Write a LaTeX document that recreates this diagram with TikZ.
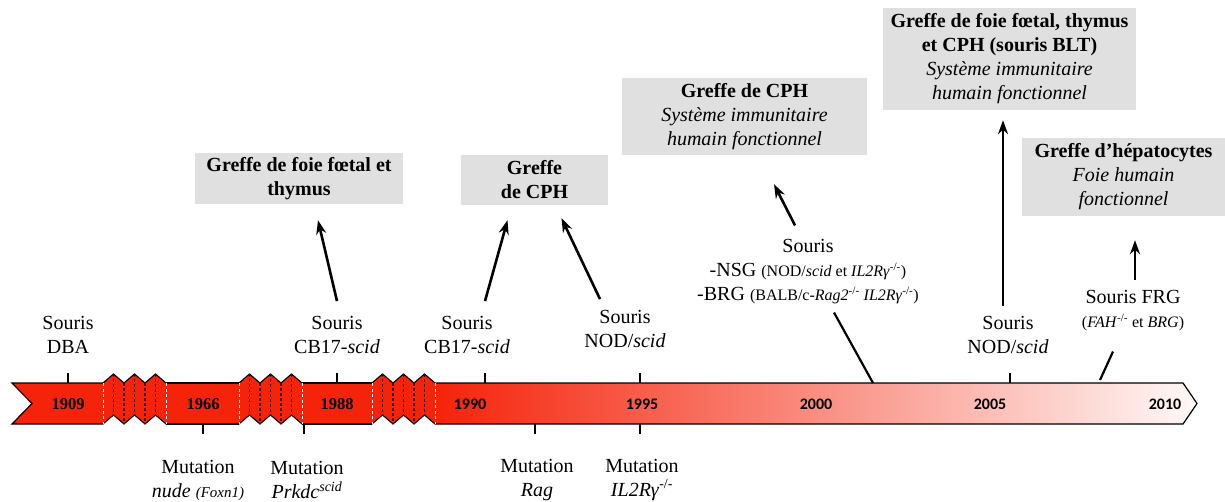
\documentclass[tikz,border=0pt]{standalone}
\usepackage{fontspec}
\setmainfont{Liberation Serif}
\newfontfamily\yearsans{Carlito}
\usetikzlibrary{arrows.meta,calc}
\definecolor{barred}{RGB}{245,35,10}
\definecolor{boxgray}{RGB}{224,224,224}
\definecolor{dashdark}{RGB}{60,5,0}
\newcommand\smtxt{\fontsize{16}{24}\selectfont}
\tikzset{
  lbl/.style={align=center,inner sep=0pt,font=\fontsize{20}{24}\selectfont},
  gbox/.style={fill=boxgray,align=center,inner sep=0pt,font=\fontsize{20}{24}\selectfont},
  arr/.style={line width=2.6pt,-{Stealth[length=14pt,width=10pt]}},
  conn/.style={line width=2.2pt},
  tickmark/.style={line width=1.3pt},
  oldyear/.style={font=\fontsize{16.5}{16.5}\selectfont\bfseries,inner sep=0pt},
  newyear/.style={font=\fontsize{16}{16}\selectfont\yearsans\bfseries,inner sep=0pt},
  brkzone/.pic={
    \fill[barred] (0,0) -- (10.5,-9) -- (21,0) -- (31.5,-9) -- (42,0) -- (52.5,-9) -- (63,0)
      -- (63,41) -- (52.5,32) -- (42,41) -- (31.5,32) -- (21,41) -- (10.5,32) -- (0,41) -- cycle;
    \draw[line width=1.1pt] (0,0) -- (10.5,-9) -- (21,0) -- (31.5,-9) -- (42,0) -- (52.5,-9) -- (63,0);
    \draw[line width=1.1pt] (0,41) -- (10.5,32) -- (21,41) -- (31.5,32) -- (42,41) -- (52.5,32) -- (63,41);
    \foreach \xx/\yt/\yb in {10.5/-9/32, 21/0/41, 31.5/-9/32, 42/0/41, 52.5/-9/32}
      \draw[dashdark, line width=1.3pt, dash pattern=on 3pt off 2pt] (\xx,\yt) -- (\xx,\yb);
    \draw[white, line width=0.8pt, dash pattern=on 3pt off 2.5pt] (0,0) -- (0,41) (63,0) -- (63,41);
  }
}
\begin{document}
\begin{tikzpicture}[x=1pt,y=-1pt]
\fill[white] (0,0) rectangle (1225,501);
\useasboundingbox (0,0) rectangle (1225,501);

% ---- timeline bar ----
\fill[barred] (12,383) -- (103,383) -- (103,424) -- (12,424) -- (32,403.5) -- cycle;
\draw[line width=1.2pt] (103,383) -- (12,383) -- (32,403.5) -- (12,424) -- (103,424);
\fill[barred] (166,383) rectangle (239,424);
\draw[line width=1.2pt] (166,383) -- (239,383) (166,424) -- (239,424);
\fill[barred] (302,383) rectangle (372,424);
\draw[line width=1.2pt] (302,383) -- (372,383) (302,424) -- (372,424);
\shade[left color=barred, right color=barred!3!white]
  (435,383) -- (1183,383) -- (1197,403.5) -- (1183,424) -- (435,424) -- cycle;
\draw[line width=1.2pt] (435,383) -- (1183,383) -- (1197,403.5) -- (1183,424) -- (435,424);
\pic at (103,383) {brkzone};
\pic at (239,383) {brkzone};
\pic at (372,383) {brkzone};

% ---- ticks ----
\foreach \tx in {68,337,485,640,1010} \draw[tickmark] (\tx,373) -- (\tx,383);
\foreach \tx in {203,304,535,640} \draw[tickmark] (\tx,424) -- (\tx,434);

% ---- years ----
\node[oldyear] (y1909) at (68,404) {1909};
\node[oldyear] (y1966) at (203,404) {1966};
\node[oldyear] (y1988) at (337,404) {1988};
\node[newyear] (y1990) at (470,404) {1990};
\node[newyear] (y1995) at (642,404) {1995};
\node[newyear] (y2000) at (816,404) {2000};
\node[newyear] (y2005) at (990,404) {2005};
\node[newyear] (y2010) at (1165,404) {2010};

% ---- mouse labels ----
\node[lbl] (dba) at (68,335) {Souris\\DBA};
\node[lbl] (cb1) at (337,335) {Souris\\CB17-\textit{scid}};
\node[lbl] (cb2) at (467,335) {Souris\\CB17-\textit{scid}};
\node[lbl] (nod1) at (625,329) {Souris\\NOD/\textit{scid}};
\node[lbl] (nsg) at (808,272) {Souris\\-NSG {\smtxt(NOD/\textit{scid} et \textit{IL2Rγ}\textsuperscript{-/-})}\\-BRG {\smtxt(BALB/c-\textit{Rag2}\textsuperscript{-/-} \textit{IL2Rγ}\textsuperscript{-/-})}};
\node[lbl] (nod2) at (1008,335) {Souris\\NOD/\textit{scid}};
\node[lbl] (frg) at (1133,311) {Souris FRG\\{\smtxt(\textit{FAH}\textsuperscript{-/-} et \textit{BRG})}};

% ---- mutations ----
\node[lbl] (mnude) at (198,480) {Mutation\\\textit{nude} {\fontsize{15}{24}\selectfont\textit{(Foxn1)}}};
\node[lbl] (mprk) at (307,480) {Mutation\\\textit{Prkdc}\textsuperscript{\textit{scid}}};
\node[lbl] (mrag) at (537,480) {Mutation\\\textit{Rag}};
\node[lbl] (mil) at (642,480) {Mutation\\\textit{IL2Rγ}\textsuperscript{-/-}};

% ---- grey boxes ----
\node[gbox, minimum width=208pt, minimum height=51pt] (box1) at (299,178.5)
  {\textbf{Greffe de foie fœtal et}\\\textbf{thymus}};
\node[gbox, minimum width=147pt, minimum height=50pt] (box2) at (534.5,180)
  {\textbf{Greffe}\\\textbf{de CPH}};
\node[gbox, minimum width=245pt, minimum height=77pt] (box3) at (744.5,116.5)
  {\textbf{Greffe de CPH}\\\textit{Système immunitaire}\\\textit{humain fonctionnel}};
\node[gbox, minimum width=253pt, minimum height=102pt] (box4) at (1009.5,59)
  {\textbf{Greffe de foie fœtal, thymus}\\\textbf{et CPH (souris BLT)}\\\textit{Système immunitaire}\\\textit{humain fonctionnel}};
\node[gbox, minimum width=203pt, minimum height=78pt] (box5) at (1123.5,177)
  {\textbf{Greffe d’hépatocytes}\\\textit{Foie humain}\\\textit{fonctionnel}};

% ---- arrows ----
\draw[arr] ($(cb1.north)+(0,-15)$) -- ($(box1.south)+(19,16)$);
\draw[arr] ($(cb2.north)+(18,-15)$) -- ($(box2.south)+(-27,15)$);
\draw[arr] ($(nod1.north)+(-25,-11)$) -- ($(box2.south)+(27,13)$);
\draw[arr] ($(nsg.north)+(-13,-14)$) -- ($(box3.south)+(29.5,29)$);
\draw[arr] ($(nod2.north)+(-5,-10)$) -- ($(box4.south)+(-6.5,10)$);
\draw[arr] ($(frg.north)+(2,-10)$) -- ($(box5.south)+(11.5,24)$);

% ---- connectors from bar ----
\coordinate (t2002) at (873,383);
\coordinate (t2008) at (1100,380);
\draw[conn] (t2002) -- ($(nsg.south)+(26,8)$);
\draw[conn] (t2008) -- ($(frg.south)+(-20,20)$);
\end{tikzpicture}
\end{document}
